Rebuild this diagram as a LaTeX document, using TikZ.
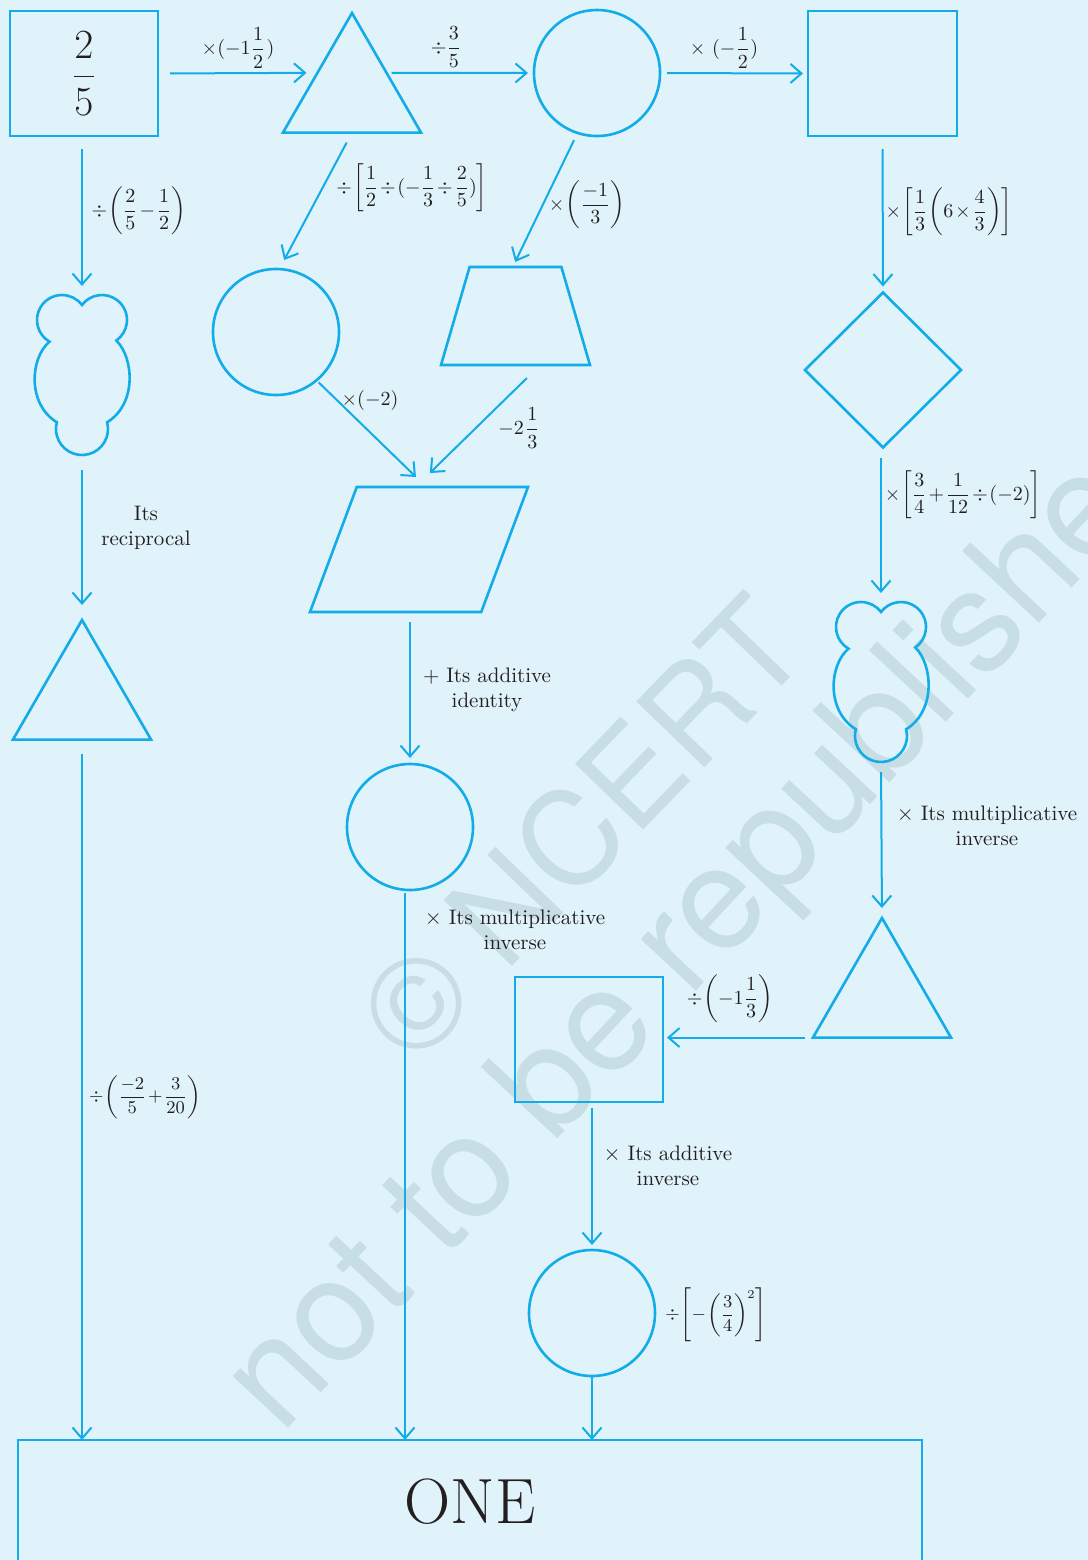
\documentclass[tikz,border=0pt]{standalone}
\usepackage{amsmath}
\usepackage{amssymb}
\usepackage{fontspec}
\usepackage{tikz}
\usetikzlibrary{
  arrows.meta,
  shapes.geometric,
  positioning,
  calc
}
\newfontfamily\markfont{TeX Gyre Heros}
\definecolor{puzBack}{HTML}{E0F2FA}
\definecolor{puzLine}{HTML}{12ACE8}
\definecolor{puzText}{HTML}{231F20}
\definecolor{puzMark}{HTML}{C8DEE5}

\tikzset{
  blob/.pic={
    \draw[puzLine, line width=1.3pt] (-32.5,-38.35)
      arc[start angle=120, end angle=323.13, radius=25]
      arc[start angle=216.87, end angle=415, radius=25]
      .. controls (52,-22) and (55,24) .. (25.11,42.27)
      arc[start angle=-15, end angle=195, radius=26]
      .. controls (-55,24) and (-52,-22) .. cycle;
    \coordinate (-top) at (0,-85);
    \coordinate (-bot) at (0,75);
  }
}

\begin{document}
\begin{tikzpicture}[x=0.5pt, y=-0.5pt,
  shp/.style={draw=puzLine, line width=1.3pt, inner sep=0pt, outer sep=0pt},
  sq/.style={shp, rectangle, minimum width=74pt, minimum height=62.5pt},
  rnd/.style={shp, circle, minimum size=63pt},
  tri/.style={shp, regular polygon, regular polygon sides=3, minimum size=79.7pt},
  quad/.style={shp, trapezium, trapezium stretches=true, inner sep=2pt},
  arr/.style={puzLine, line width=1pt, -{Straight Barb[length=5.5pt, width=9.5pt]}},
  lbl/.style={text=puzText, font=\fontsize{10}{12}\selectfont, inner sep=0pt,
    execute at begin node={\thinmuskip=1mu\medmuskip=1.5mu\thickmuskip=2mu}},
  txt/.style={text=puzText, font=\fontsize{10.5}{12.5}\selectfont, align=center, inner sep=0pt}]
  \useasboundingbox (0,0) rectangle (1088,1560);
  \clip (0,0) rectangle (1088,1560);
  \fill[puzBack] (0,0) rectangle (1088,1560);
  % watermark
  \node[rotate=46, text=puzMark, font=\markfont\fontsize{65}{70}\selectfont] (wm1) at (580,828) {© NCERT};
  \node[rotate=47, text=puzMark, font=\markfont\fontsize{72}{76}\selectfont] (wm2) at (712,920) {not to be republished};
  % top row
  \node[sq, text=puzText] (b1) at (84,73.5) {\fontsize{19.5}{24}\selectfont$\dfrac{2}{5}$};
  \node[tri] (t1) at (352,92.7) {};
  \node[rnd] (c1) at (597,73) {};
  \node[sq, minimum width=74.5pt] (b2) at (882.5,73.5) {};
  % left column
  \pic (cl1) at (82,380) {blob};
  \node[tri] (t2) at (82,699.7) {};
  % middle
  \node[rnd] (c2) at (276,332) {};
  \node[quad, trapezium left angle=72.7, trapezium right angle=72.7,
    minimum width=74.5pt, minimum height=49pt] (tz) at (515.5,316) {};
  \node[quad, trapezium left angle=69.4, trapezium right angle=110.6,
    minimum width=109pt, minimum height=62.5pt] (pg) at (419,549.5) {};
  \node[rnd] (c3) at (410,827) {};
  % right column
  \node[shp, diamond, minimum width=78pt, minimum height=77.5pt] (dm) at (883,370) {};
  \pic (cl2) at (881,687) {blob};
  \node[tri] (t3) at (882,997.7) {};
  \node[sq] (b3) at (589,1039.5) {};
  \node[rnd] (c4) at (592,1313) {};
  % result
  \node[shp, rectangle, minimum width=452pt, minimum height=62pt, text=puzText,
    font=\fontsize{32}{36}\selectfont] (one) at (470,1502) {ONE};

  % arrows
  \draw[arr, shorten <=6pt, shorten >=5.5pt] (b1.east) -- (t1.side 1);
  \draw[arr, shorten <=2.5pt, shorten >=3pt] (t1.side 3) -- (c1.west);
  \draw[arr, shorten <=3.5pt, shorten >=2.5pt] (c1.east) -- (b2.west);
  \draw[arr, shorten <=6.5pt, shorten >=4.5pt] (cl1-top |- b1.south) -- (cl1-top);
  \draw[arr, shorten <=7.5pt, shorten >=7.5pt] (cl1-bot) -- (t2.corner 1);
  \draw[arr, shorten <=7pt] (t2.side 2) -- (t2.side 2 |- one.north);
  \draw[arr, shorten <=5.7pt, shorten >=5.15pt] (t1.side 2) -- (c2.87.2);
  \draw[arr, shorten <=4pt, shorten >=2.8pt] (c1.-108) -- ($(tz.top left corner)!0.47!(tz.top right corner)$);
  \draw[arr, shorten <=1.5pt, shorten >=7.2pt] (c2.-50.8) -- ($(pg.top left corner)!0.406!(pg.top right corner)$);
  \draw[arr, shorten <=9.3pt, shorten >=10pt] ($(tz.bottom left corner)!0.666!(tz.bottom right corner)$)
    -- ($(pg.top left corner)!0.343!(pg.top right corner)$);
  \draw[arr, shorten <=5pt, shorten >=3pt] (c3.north |- pg.bottom side) -- (c3.north);
  \draw[arr, shorten <=1.5pt] ([xshift=-2.5pt]c3.south) -- ([xshift=-2.5pt]c3.south |- one.north);
  \draw[arr, shorten <=6.5pt, shorten >=3pt] (b2.south) -- (dm.north);
  \draw[arr, shorten <=5pt, shorten >=4.5pt] (cl2-top |- dm.south) -- (cl2-top);
  \draw[arr, shorten <=5pt, shorten >=5pt] (cl2-bot) -- (t3.corner 1);
  \draw[arr, shorten <=4pt, shorten >=2pt] (t3.corner 2) -- (t3.corner 2 -| b3.east);
  \draw[arr, shorten <=3pt, shorten >=2.5pt] (c4.north |- b3.south) -- (c4.north);
  \draw[arr, shorten <=0.5pt] (c4.south) -- (c4.south |- one.north);

  % labels
  \node[lbl] (l1) at (238,48) {$\times(-1\dfrac{1}{2}\,)$};
  \node[lbl] (l2) at (446,47) {$\div\dfrac{3}{5}$};
  \node[lbl] (l3) at (724,48) {$\times\ (-\dfrac{1}{2})$};
  \node[lbl] (l4) at (139,211) {$\div\left(\dfrac{2}{5}-\dfrac{1}{2}\right)$};
  \node[lbl] (l5) at (412,188) {$\div\left[\dfrac{1}{2}\div(-\dfrac{1}{3}\div\dfrac{2}{5})\right]$};
  \node[lbl] (l6) at (587,205) {$\times\left(\dfrac{-1}{3}\right)$};
  \node[lbl] (l7) at (949,212) {$\times\left[\dfrac{1}{3}\left(6\times\dfrac{4}{3}\right)\right]$};
  \node[lbl] (l8) at (963,495) {$\times\left[\dfrac{3}{4}+\dfrac{1}{12}\div(-2)\right]$};
  \node[lbl] (l9) at (370,400) {$\times(-2)$};
  \node[lbl] (l10) at (519,428) {$-2\,\dfrac{1}{3}$};
  \node[lbl, font=\fontsize{9}{11}\selectfont] (l11) at (145,1097) {$\div\left(\dfrac{-2}{5}+\dfrac{3}{20}\right)$};
  \node[lbl] (l12) at (730,999) {$\div\left(-1\dfrac{1}{3}\right)$};
  \node[lbl, font=\fontsize{9}{11}\selectfont] (l13) at (716,1315) {$\div\left[-\left(\dfrac{3}{4}\right)^{\!2}\right]$};
  \node[txt] (n1) at (146,528) {Its\\reciprocal};
  \node[txt] (n2) at (487,690) {+ Its additive\\identity};
  \node[txt] (n3) at (515,930) {$\times$ Its multiplicative\\inverse};
  \node[txt] (n4) at (987,826) {$\times$ Its multiplicative\\inverse};
  \node[txt] (n5) at (668,1166) {$\times$ Its additive\\inverse};
\end{tikzpicture}
\end{document}
